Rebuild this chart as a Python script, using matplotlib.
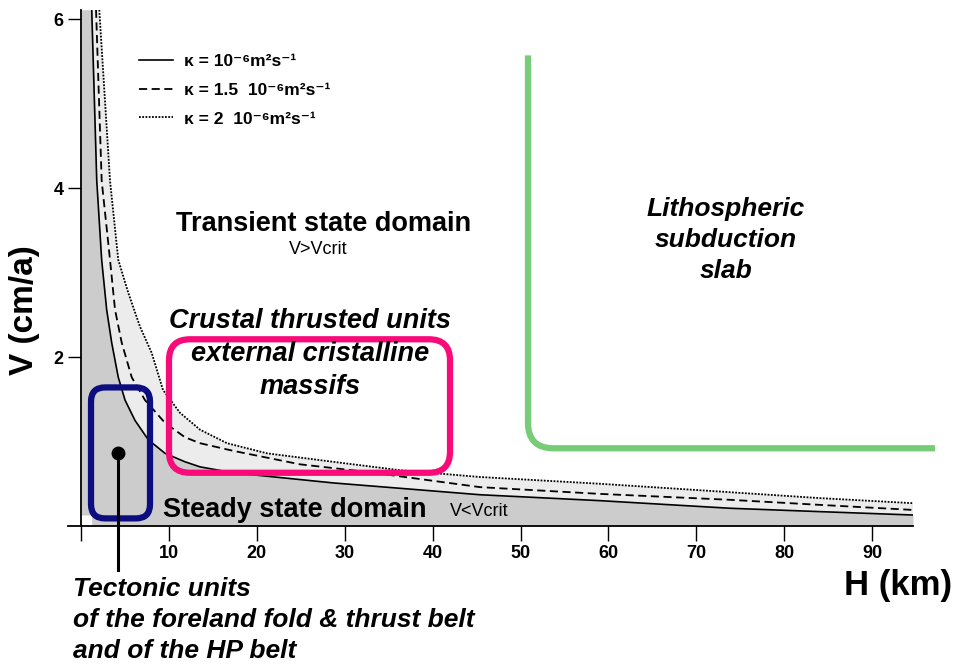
import matplotlib
matplotlib.use('Agg')
import matplotlib.pyplot as plt
import numpy as np
from matplotlib.patches import FancyBboxPatch, PathPatch
from matplotlib.path import Path

plt.rcParams['font.family'] = ['Liberation Sans', 'DejaVu Sans']

# curves: H (km) and V (cm/a)
h_k1 = [1.22, 1.79, 2.35, 2.92, 3.49, 4.24, 5.01, 6.14, 7.66, 9.56, 11.83,
        13.54, 17.29, 28.67, 45.39, 59.04, 73.83, 84.07, 94.65]
v_k1 = [6.11, 4.09, 3.15, 2.56, 2.17, 1.76, 1.49, 1.25, 1.02, 0.86, 0.76,
        0.70, 0.63, 0.51, 0.37, 0.30, 0.21, 0.17, 0.13]

h_k15 = [1.71, 2.35, 3.30, 3.87, 4.63, 5.77, 7.28, 9.56, 11.83, 13.54, 17.29,
         24.91, 32.54, 45.39, 59.04, 73.83, 84.07, 94.65]
v_k15 = [6.11, 4.09, 3.15, 2.56, 2.17, 1.76, 1.49, 1.22, 1.05, 0.98, 0.89,
         0.73, 0.64, 0.46, 0.38, 0.31, 0.25, 0.19]

h_k2 = [2.08, 3.30, 4.24, 5.38, 6.71, 8.04, 9.33, 11.26, 13.54, 16.61, 21.16,
        28.67, 36.29, 45.39, 59.04, 73.83, 84.07, 94.65]
v_k2 = [6.11, 4.09, 3.15, 2.76, 2.36, 2.05, 1.61, 1.34, 1.14, 0.98, 0.86,
        0.76, 0.66, 0.58, 0.50, 0.40, 0.33, 0.27]

labels = ['κ = 10⁻⁶m²s⁻¹', 'κ = 1.5  10⁻⁶m²s⁻¹', 'κ = 2  10⁻⁶m²s⁻¹']
xticks = [0, 10, 20, 30, 40, 50, 60, 70, 80, 90]
xticklabels = ['', '10', '20', '30', '40', '50', '60', '70', '80', '90']
yticks = [2, 4, 6]

# annotation shapes (data units)
blue_box = (1.14, 0.09, 6.71, 1.55)     # x, y, w, h
pink_box = (10.01, 0.63, 31.97, 1.58)
green_x, green_top, green_y, green_right = 50.85, 5.57, 0.92, 97.15
dot_h, dot_v, dot_end = 4.21, 0.86, -0.52

W, H = 954, 666
fig = plt.figure(figsize=(W / 100, H / 100), dpi=100)
ax = fig.add_axes([81 / W, 1 - 526 / H, 832 / W, 516 / H])
ax.set_xlim(0, 94.65)
ax.set_ylim(0, 6.107)

# pixel -> data scale ratio for rounded corners
asp = (6.107 / 516) / (94.65 / 832)

hs = np.array(h_k1)
vs = np.array(v_k1)
ax.fill(np.concatenate([h_k2, hs[::-1]]), np.concatenate([v_k2, vs[::-1]]),
        color='#ececec', lw=0, zorder=1)
ax.fill_between(hs, 0, vs, color='#cccccc', lw=0, zorder=1)
ax.fill_betweenx(vs, 0, hs, color='#cccccc', lw=0, zorder=1)

l1, = ax.plot(h_k1, v_k1, color='black', lw=1.2, zorder=3)
l2, = ax.plot(h_k15, v_k15, color='black', lw=1.3, ls=(0, (4.5, 2.5)), zorder=3)
l3, = ax.plot(h_k2, v_k2, color='black', lw=1.3, ls=(0, (1, 0.8)), zorder=3)

leg = fig.legend([l1, l2, l3], labels, loc='upper left',
                 bbox_to_anchor=(139 / W, 1 - 54 / H), frameon=False,
                 prop={'weight': 'bold', 'size': 12.5}, handlelength=1.95,
                 handletextpad=0.65, labelspacing=0.78, borderpad=0,
                 borderaxespad=0)

# boxes
bx, by, bw, bh = blue_box
ax.add_patch(FancyBboxPatch((bx, by), bw, bh,
                            boxstyle='round,pad=0,rounding_size=1.6',
                            mutation_aspect=asp, fill=False,
                            ec='#0d0d80', lw=4.5, zorder=5))
px, py, pw, ph = pink_box
ax.add_patch(FancyBboxPatch((px, py), pw, ph,
                            boxstyle='round,pad=0,rounding_size=2.4',
                            mutation_aspect=asp, fill=False,
                            ec='#f80a78', lw=4.5, zorder=5))

rx = 2.9
ry = rx * asp
gpath = Path([(green_x, green_top), (green_x, green_y + ry), (green_x, green_y),
              (green_x + rx, green_y), (green_right, green_y)],
             [Path.MOVETO, Path.LINETO, Path.CURVE3, Path.CURVE3, Path.LINETO])
ax.add_patch(PathPatch(gpath, fill=False, ec='#78cc78', lw=4.5,
                       capstyle='butt', clip_on=False, zorder=5))

ax.plot([dot_h, dot_h], [dot_v, dot_end], color='black', lw=2.2,
        clip_on=False, zorder=6)
ax.plot([dot_h], [dot_v], 'o', color='black', ms=9, zorder=6)

# axes styling
for s in ['top', 'right']:
    ax.spines[s].set_visible(False)
for s in ['left', 'bottom']:
    ax.spines[s].set_linewidth(1.3)
    ax.spines[s].set_zorder(4)
ax.spines['bottom'].set_bounds(-1.5, 94.65)
ax.set_xticks(xticks)
ax.set_xticklabels(xticklabels, fontsize=13, fontweight='bold')
ax.set_yticks(yticks)
ax.set_yticklabels([str(t) for t in yticks], fontsize=13, fontweight='bold')
ax.tick_params(axis='x', direction='out', length=11, width=1, pad=3)
ax.tick_params(axis='y', direction='out', length=9.5, width=1, pad=3)

fig.text(25 / W, 1 - 310 / H, 'V (cm/a)', rotation=90, ha='center',
         va='center', fontsize=24, fontweight='bold')
fig.text(952 / W, 1 - 586 / H, 'H (km)', ha='right', va='center',
         fontsize=25, fontweight='bold')

fig.text(324 / W, 1 - 224 / H, 'Transient state domain', ha='center',
         va='center', fontsize=19.5, fontweight='bold')
fig.text(318 / W, 1 - 250 / H, 'V>Vcrit', ha='center', va='center',
         fontsize=13)
fig.text(726 / W, 1 - 240 / H, 'Lithospheric\nsubduction\nslab', ha='center',
         va='center', fontsize=19, fontweight='bold', style='italic',
         linespacing=1.38)
fig.text(310 / W, 1 - 354 / H, 'Crustal thrusted units\nexternal cristalline\nmassifs',
         ha='center', va='center', fontsize=19.5, fontweight='bold',
         style='italic', linespacing=1.33)
fig.text(163 / W, 1 - 510 / H, 'Steady state domain', ha='left', va='center',
         fontsize=19.5, fontweight='bold', zorder=7)
fig.text(450 / W, 1 - 512 / H, 'V<Vcrit', ha='left', va='center',
         fontsize=13, zorder=7)
fig.text(73 / W, 1 - 620 / H,
         'Tectonic units\nof the foreland fold & thrust belt\nand of the HP belt',
         ha='left', va='center', fontsize=19, fontweight='bold',
         style='italic', linespacing=1.38)

fig.savefig('out.png', dpi=100)
